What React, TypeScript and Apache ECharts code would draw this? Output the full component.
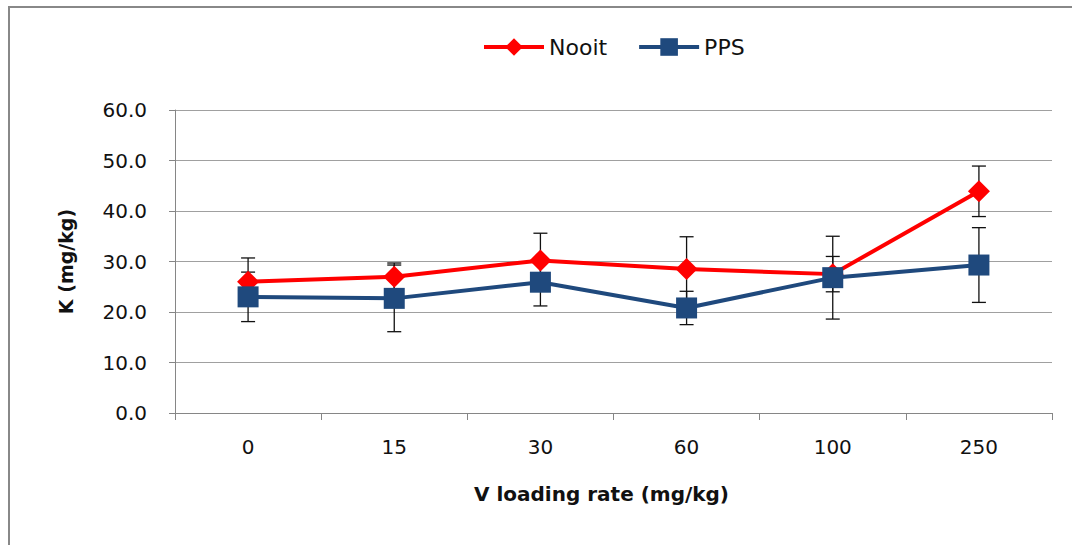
import React, { useEffect, useRef } from "react";
import * as echarts from "echarts";

const categories = ["0", "15", "30", "60", "100", "250"];
const nooitValues = [26.0, 27.0, 30.2, 28.5, 27.5, 43.9];
const nooitErrors = [4.7, 2.7, 5.4, 6.4, 3.5, 5.0];
const ppsValues = [23.0, 22.7, 25.9, 20.8, 26.8, 29.3];
const ppsErrors = [4.9, 6.6, 4.7, 3.3, 8.2, 7.4];

const FONT = "DejaVu Sans";

function errData(vals: number[], errs: number[]) {
  return vals.map((v, i) => [i, v - errs[i], v + errs[i]]);
}

function errorSeries(name: string, vals: number[], errs: number[]) {
  return {
    type: "custom",
    name: name + " err",
    z: 1,
    silent: true,
    data: errData(vals, errs),
    encode: { x: 0, y: [1, 2] },
    renderItem: (params: any, api: any) => {
      const x = api.value(0);
      const lo = api.coord([x, api.value(1)]);
      const hi = api.coord([x, api.value(2)]);
      const hw = 7;
      const style = { stroke: "#111", lineWidth: 1.3 };
      return {
        type: "group",
        children: [
          { type: "line", shape: { x1: hi[0], y1: hi[1], x2: lo[0], y2: lo[1] }, style },
          { type: "line", shape: { x1: hi[0] - hw, y1: hi[1], x2: hi[0] + hw, y2: hi[1] }, style },
          { type: "line", shape: { x1: lo[0] - hw, y1: lo[1], x2: lo[0] + hw, y2: lo[1] }, style },
        ],
      };
    },
  };
}

export default function App() {
  const ref = useRef<HTMLDivElement>(null);
  useEffect(() => {
    if (!ref.current) return;
    const chart = echarts.init(ref.current, undefined, { renderer: "svg" });
    chart.setOption({
      animation: false,
      backgroundColor: "#fff",
      legend: {
        data: ["Nooit", "PPS"],
        left: 477,
        top: 31,
        itemWidth: 60,
        itemHeight: 22,
        itemGap: 30,
        lineStyle: { width: 4 },
        textStyle: { fontFamily: FONT, fontSize: 22, color: "#111" },
      },
      grid: { left: 175, right: 20, top: 110, bottom: 132 },
      xAxis: {
        type: "category",
        data: categories,
        boundaryGap: true,
        name: "V loading rate (mg/kg)",
        nameLocation: "middle",
        nameGap: 71,
        nameTextStyle: {
          fontFamily: FONT,
          fontSize: 20,
          fontWeight: "bold",
          color: "#111",
          verticalAlign: "top",
          padding: [0, 24, 0, 0],
        },
        axisLine: { show: true, lineStyle: { color: "#868686", width: 1 } },
        axisTick: { show: true, length: 7, alignWithLabel: false, lineStyle: { color: "#868686" } },
        axisLabel: { fontFamily: FONT, fontSize: 20, color: "#111", margin: 24 },
        splitLine: { show: false },
      },
      yAxis: {
        type: "value",
        min: 0,
        max: 60,
        interval: 10,
        name: "K (mg/kg)",
        nameLocation: "middle",
        nameGap: 100,
        nameTextStyle: { fontFamily: FONT, fontSize: 19, fontWeight: "bold", color: "#111" },
        axisLine: { show: true, lineStyle: { color: "#868686", width: 1 } },
        axisTick: { show: true, length: 6, lineStyle: { color: "#868686" } },
        axisLabel: {
          fontFamily: FONT,
          fontSize: 20,
          color: "#111",
          margin: 28,
          formatter: (v: number) => v.toFixed(1),
        },
        splitLine: { show: true, lineStyle: { color: "#a0a0a0", width: 1 } },
      },
      graphic: [
        { type: "line", shape: { x1: 8, y1: 7, x2: 1072, y2: 7 }, style: { stroke: "#888", lineWidth: 2 } },
        { type: "line", shape: { x1: 9, y1: 6, x2: 9, y2: 545 }, style: { stroke: "#888", lineWidth: 2 } },
      ],
      series: [
        errorSeries("Nooit", nooitValues, nooitErrors),
        errorSeries("PPS", ppsValues, ppsErrors),
        {
          type: "line",
          name: "Nooit",
          z: 2,
          data: nooitValues,
          symbol: "diamond",
          symbolSize: 22,
          lineStyle: { color: "#ff0000", width: 4 },
          itemStyle: { color: "#ff0000" },
        },
        {
          type: "line",
          name: "PPS",
          z: 3,
          data: ppsValues,
          symbol: "rect",
          symbolSize: 21,
          lineStyle: { color: "#1f497d", width: 4 },
          itemStyle: { color: "#1f497d" },
        },
      ],
    });
    return () => chart.dispose();
  }, []);
  return (
    <div
      ref={ref}
      style={{ position: "fixed", left: 0, top: 0, width: 1072, height: 545 }}
    />
  );
}
